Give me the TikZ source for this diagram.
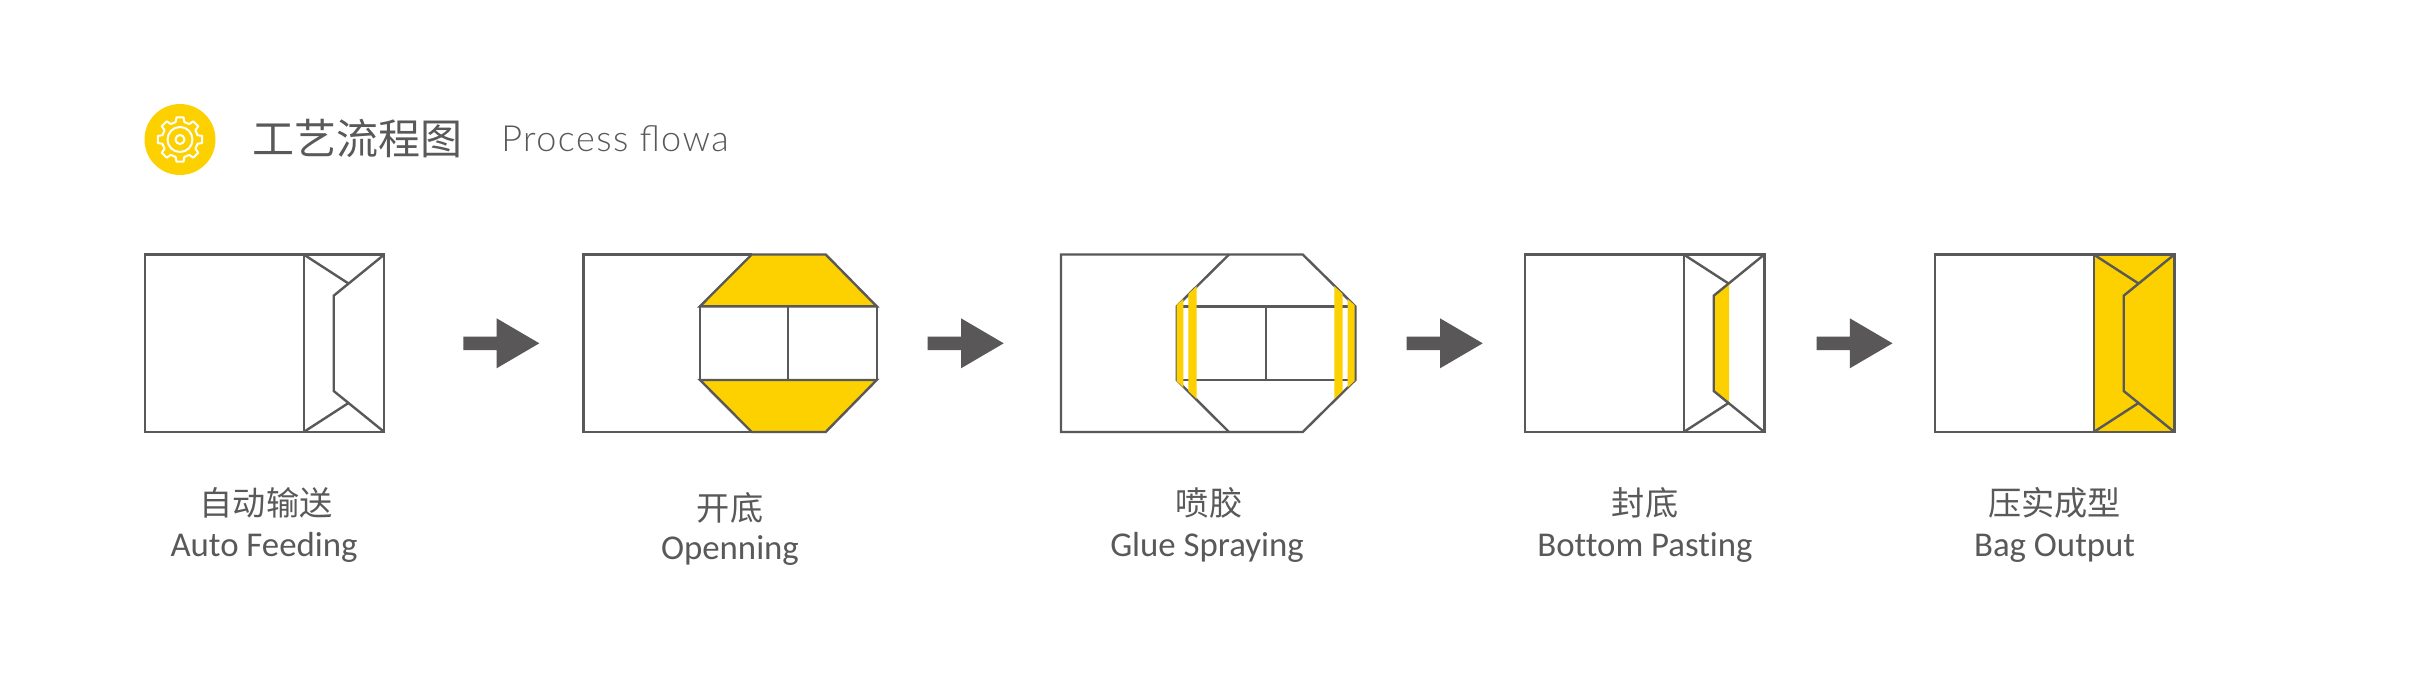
\documentclass[tikz,border=0pt]{standalone}
\usepackage{fontspec}
\setmainfont[Ligatures=NoCommon]{Carlito}
\newfontfamily\cjk{Noto Sans CJK SC}
\newfontfamily\latinhead[LetterSpace=4]{Lato Light}
\definecolor{ink}{HTML}{595959}
\definecolor{arrowink}{HTML}{595757}
\definecolor{gold}{HTML}{FDD000}
\tikzset{
  x=0.5pt,y=-0.5pt,
  outline/.style={draw=ink,line width=1.2pt,line join=miter},
  geartrace/.style={draw=white,line width=1pt,line join=round},
  cntext/.style={inner sep=0pt,text=ink,font=\cjk\fontsize{16.6}{17}\selectfont,anchor=center},
  entext/.style={inner sep=0pt,text=ink,font=\fontsize{17.4}{17}\selectfont,anchor=base},
  flap/.pic={
    \draw[outline] (0,0) -- (44.8,29);
    \draw[outline] (80.6,0) -- (30,41.2) -- (30,136.5) -- (80.6,177.5);
    \draw[outline] (0,177.5) -- (44.8,148.5);
  },
  blockarrow/.pic={
    \fill[arrowink] (0,-6.7) -- (33.3,-6.7) -- (33.3,-25) -- (76,0) -- (33.3,25) -- (33.3,6.7) -- (0,6.7) -- cycle;
  },
}
\begin{document}
\begin{tikzpicture}
\useasboundingbox (0,0) rectangle (2418,680);
\fill[white] (0,0) rectangle (2418,680);
% header icon
\fill[gold] (180,139.5) circle (35.5);
\begin{scope}[shift={(180,139.5)}]
\draw[geartrace]
 (-14:18) \foreach \a in {0,45,...,315} {
   -- ({\a-14}:18) -- ({\a-9}:22.5) -- ({\a+9}:22.5) -- ({\a+14}:18) -- ({\a+31}:18)
 } -- cycle;
\draw[geartrace] (0,0) circle (12.5);
\draw[geartrace] (0,0) circle (4.5);
\end{scope}
\node[inner sep=0pt,anchor=west,text=ink,font=\cjk\fontsize{21}{21}\selectfont] (title) at (252.5,139) {工艺流程图};
\node[inner sep=0pt,anchor=base west,text=ink,font=\latinhead\fontsize{18}{18}\selectfont] (subtitle) at (501,151) {Process flowa};

% panel 1
\draw[outline] (145,254.5) rectangle (384,432);
\draw[outline] (303.7,254.5) -- (303.7,432);
\pic at (303.7,254.5) {flap};
\pic at (463.3,343.3) {blockarrow};

% panel 2
\draw[outline] (751.7,254.5) -- (583.3,254.5) -- (583.3,432) -- (751.7,432);
\filldraw[fill=gold,outline] (751.7,254.5) -- (825.7,254.5) -- (876.7,306.3) -- (700,306.3) -- cycle;
\filldraw[fill=gold,outline] (700,380) -- (876.7,380) -- (825.7,432) -- (751.7,432) -- cycle;
\draw[outline] (700,306.3) -- (700,380) (876.7,306.3) -- (876.7,380) (788,306.3) -- (788,380);
\pic at (927.7,343.3) {blockarrow};

% panel 3
\draw[outline] (1229,254.5) -- (1061,254.5) -- (1061,432) -- (1229,432) -- (1302.7,432)
  -- (1355.3,380) -- (1355.3,306.3) -- (1302.7,254.5) -- cycle;
\draw[outline] (1229,254.5) -- (1176.7,306.3) -- (1176.7,380) -- (1229,432);
\draw[outline] (1176.7,306.3) -- (1355.3,306.3) (1176.7,380) -- (1355.3,380) (1265.7,306.3) -- (1265.7,380);
\fill[gold] (1176.7,305) -- (1183.3,299) -- (1183.3,387.5) -- (1176.7,381) -- cycle;
\fill[gold] (1188.3,294) -- (1196.7,286) -- (1196.7,399) -- (1188.3,391) -- cycle;
\fill[gold] (1334.3,286) -- (1342.7,294) -- (1342.7,391) -- (1334.3,399) -- cycle;
\fill[gold] (1347.7,299) -- (1354.5,305) -- (1354.5,381) -- (1347.7,387.5) -- cycle;
\pic at (1406.7,343.3) {blockarrow};

% panel 4
\draw[outline] (1525,254.5) rectangle (1764.3,432);
\draw[outline] (1683.7,254.5) -- (1683.7,432);
\fill[gold] (1713.7,295.7) -- (1729,283.5) -- (1729,403) -- (1713.7,391) -- cycle;
\pic at (1683.7,254.5) {flap};
\pic at (1816.5,343.3) {blockarrow};

% panel 5
\draw[outline] (1935,254.5) rectangle (2174.3,432);
\filldraw[fill=gold,outline] (2093.7,254.5) rectangle (2174.3,432);
\pic at (2093.7,254.5) {flap};

% labels
\node[cntext] (c1) at (266,503) {自动输送};
\node[entext] (e1) at (264,556) {Auto Feeding};
\node[cntext] (c2) at (730,508) {开底};
\node[entext] (e2) at (730,559) {Openning};
\node[cntext] (c3) at (1209,503) {喷胶};
\node[entext] (e3) at (1207,556) {Glue Spraying};
\node[cntext] (c4) at (1645,503) {封底};
\node[entext] (e4) at (1645,556) {Bottom Pasting};
\node[cntext] (c5) at (2054.6,503) {压实成型};
\node[entext] (e5) at (2054.6,556) {Bag Output};
\end{tikzpicture}
\end{document}
